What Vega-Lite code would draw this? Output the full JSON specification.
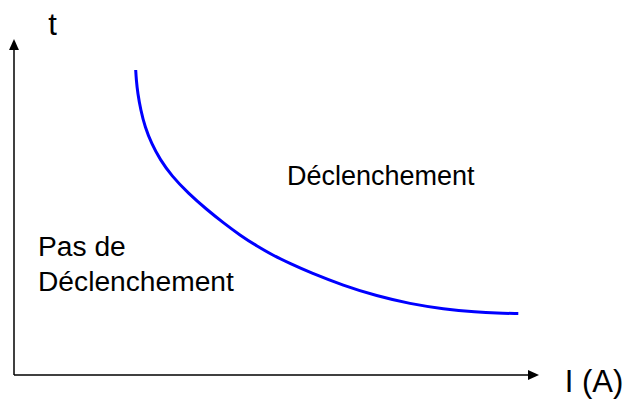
{
  "$schema": "https://vega.github.io/schema/vega-lite/v6.json",
  "width": 626,
  "height": 400,
  "autosize": {"type": "fit", "contains": "padding"},
  "padding": 0,
  "background": "white",
  "view": {"stroke": null},
  "datasets": {
    "axes": [
      {"x": 0, "y": 0, "x2": 516, "y2": 0},
      {"x": 0, "y": 0, "x2": 0, "y2": 327}
    ],
    "heads": [
      {"x": 519.5, "y": 0, "dir": "right"},
      {"x": 0, "y": 330.5, "dir": "up"}
    ],
    "curve": [
      {"I": 121.7, "t": 305},
      {"I": 122.3, "t": 295},
      {"I": 123.7, "t": 282},
      {"I": 126.7, "t": 265},
      {"I": 131, "t": 248},
      {"I": 137.7, "t": 231},
      {"I": 146, "t": 215.6},
      {"I": 157.7, "t": 199},
      {"I": 174.3, "t": 181.7},
      {"I": 192.7, "t": 165.5},
      {"I": 209.3, "t": 152.2},
      {"I": 226, "t": 139.8},
      {"I": 242.7, "t": 129},
      {"I": 259.3, "t": 119.5},
      {"I": 276, "t": 111.5},
      {"I": 296, "t": 102.5},
      {"I": 329.3, "t": 89.5},
      {"I": 362.7, "t": 79},
      {"I": 396, "t": 71.2},
      {"I": 429.3, "t": 66},
      {"I": 462.7, "t": 62.8},
      {"I": 482.7, "t": 61.8},
      {"I": 504.3, "t": 61.5}
    ],
    "labels": [
      {"text": "Déclenchement", "x": 273, "y": 190, "size": 27},
      {"text": "Pas de", "x": 24, "y": 119, "size": 28.2},
      {"text": "Déclenchement", "x": 24, "y": 84, "size": 28.2}
    ],
    "axislabels": [
      {"text": "t", "x": 38.5, "y": 340},
      {"text": "I (A)", "x": 580, "y": -17}
    ]
  },
  "layer": [
    {
      "data": {"name": "axes"},
      "mark": {"type": "rule", "color": "black", "strokeWidth": 1.5},
      "encoding": {
        "x": {"field": "x", "type": "quantitative", "scale": {"domain": [-14, 612], "nice": false, "zero": false}, "axis": null},
        "y": {"field": "y", "type": "quantitative", "scale": {"domain": [-25, 375], "nice": false, "zero": false}, "axis": null},
        "x2": {"field": "x2"},
        "y2": {"field": "y2"}
      }
    },
    {
      "data": {"name": "heads"},
      "transform": [{"filter": "datum.dir === 'right'"}],
      "mark": {"type": "point", "shape": "M-1,-0.9L1,0L-1,0.9Z", "filled": true, "color": "black", "size": 121, "opacity": 1},
      "encoding": {
        "x": {"field": "x", "type": "quantitative"},
        "y": {"field": "y", "type": "quantitative"}
      }
    },
    {
      "data": {"name": "heads"},
      "transform": [{"filter": "datum.dir === 'up'"}],
      "mark": {"type": "point", "shape": "M0,-1L0.9,1L-0.9,1Z", "filled": true, "color": "black", "size": 121, "opacity": 1},
      "encoding": {
        "x": {"field": "x", "type": "quantitative"},
        "y": {"field": "y", "type": "quantitative"}
      }
    },
    {
      "data": {"name": "curve"},
      "mark": {"type": "line", "color": "#0000FF", "strokeWidth": 3, "interpolate": "basis"},
      "encoding": {
        "x": {"field": "I", "type": "quantitative"},
        "y": {"field": "t", "type": "quantitative"}
      }
    },
    {
      "data": {"name": "labels"},
      "mark": {"type": "text", "align": "left", "baseline": "alphabetic", "font": "Liberation Sans", "color": "black"},
      "encoding": {
        "x": {"field": "x", "type": "quantitative"},
        "y": {"field": "y", "type": "quantitative"},
        "text": {"field": "text"},
        "size": {"field": "size", "type": "quantitative", "scale": null}
      }
    },
    {
      "data": {"name": "axislabels"},
      "mark": {"type": "text", "align": "center", "baseline": "alphabetic", "font": "Liberation Sans", "fontSize": 31, "color": "black"},
      "encoding": {
        "x": {"field": "x", "type": "quantitative"},
        "y": {"field": "y", "type": "quantitative"},
        "text": {"field": "text"}
      }
    }
  ]
}
